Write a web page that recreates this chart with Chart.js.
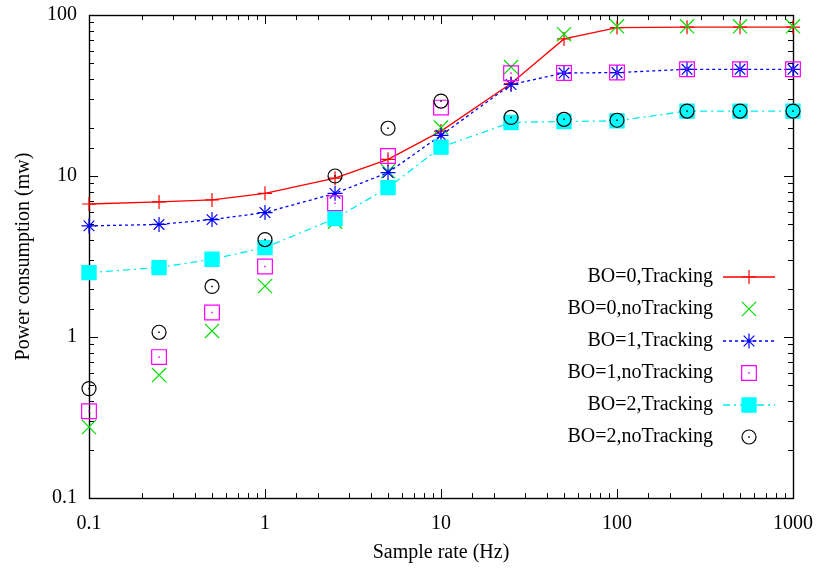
<!DOCTYPE html>
<html>
<head>
<meta charset="utf-8">
<title>Power consumption vs sample rate</title>
<script src="https://cdn.jsdelivr.net/npm/chart.js@4.4.1/dist/chart.umd.min.js"></script>
<style>
  html, body { margin: 0; padding: 0; background: #fff; }
  canvas { display: block; }
</style>
</head>
<body>
<canvas id="powerChart" width="818" height="570"></canvas>
<script>
// Sample rates (Hz) on the x axis
const sampleRates = [0.1, 0.25, 0.5, 1, 2.5, 5, 10, 25, 50, 100, 250, 500, 1000];

// Power consumption (mw) per configuration
const bo0Tracking   = [6.7, 6.9, 7.1, 7.8, 9.7, 12.7, 19.0, 37.5, 71, 83.5, 84, 84, 84];
const bo0NoTracking = [0.276, 0.58, 1.09, 2.07, 5.2, 10.7, 20, 47.5, 76, 85, 85, 85, 85];
const bo1Tracking   = [4.9, 5.0, 5.36, 5.93, 7.8, 10.5, 17.9, 37, 43.6, 43.9, 46, 46, 46];
const bo1NoTracking = [0.346, 0.75, 1.42, 2.74, 6.77, 13.3, 26.6, 43.5, 43.6, 43.9, 46, 46, 46];
const bo2Tracking   = [2.51, 2.7, 3.04, 3.59, 5.44, 8.47, 15.1, 21.5, 21.8, 22, 25.3, 25.3, 25.3];
const bo2NoTracking = [0.478, 1.07, 2.06, 4.03, 10.0, 19.8, 29.2, 23.1, 22.5, 22.2, 25.3, 25.3, 25.3];

const seriesLabels = [
    'BO=0,Tracking', 'BO=0,noTracking',
    'BO=1,Tracking', 'BO=1,noTracking',
    'BO=2,Tracking', 'BO=2,noTracking'
];

const FONT = "'Liberation Serif', 'Times New Roman', serif";

function toPoints(values) {
    return sampleRates.map((x, i) => ({ x: x, y: values[i] }));
}

function isDecade(v) {
    const l = Math.log10(v);
    return Math.abs(l - Math.round(l)) < 1e-9;
}

// ==============================================================================
// PLUGINS
// ==============================================================================

// gnuplot style frame: border plus inward ticks on all four sides
const frameTicks = {
    id: 'frameTicks',
    beforeDatasetsDraw(chart) {
        const { ctx, chartArea: a, scales: { x, y } } = chart;
        ctx.save();
        ctx.strokeStyle = '#000';
        ctx.lineWidth = 1;
        ctx.beginPath();
        x.ticks.forEach(t => {
            const px = Math.round(x.getPixelForValue(t.value)) + 0.5;
            const len = isDecade(t.value) ? 9 : 5;
            ctx.moveTo(px, a.bottom); ctx.lineTo(px, a.bottom - len);
            ctx.moveTo(px, a.top); ctx.lineTo(px, a.top + len);
        });
        y.ticks.forEach(t => {
            const py = Math.round(y.getPixelForValue(t.value)) + 0.5;
            const len = isDecade(t.value) ? 9 : 5;
            ctx.moveTo(a.left, py); ctx.lineTo(a.left + len, py);
            ctx.moveTo(a.right, py); ctx.lineTo(a.right - len, py);
        });
        ctx.stroke();
        ctx.lineWidth = 1.4;
        ctx.strokeRect(Math.round(a.left) + 0.5, Math.round(a.top) + 0.5,
            Math.round(a.right - a.left), Math.round(a.bottom - a.top));
        ctx.restore();
    }
};

// tiny centre dot inside the open square and circle markers
const centreDots = {
    id: 'centreDots',
    afterDatasetsDraw(chart) {
        const ctx = chart.ctx;
        ctx.save();
        chart.data.datasets.forEach((ds, i) => {
            if (!ds.centreDot) return;
            ctx.fillStyle = ds.pointBorderColor;
            chart.getDatasetMeta(i).data.forEach(pt => {
                ctx.fillRect(pt.x - 0.75, pt.y - 0.75, 1.5, 1.5);
            });
        });
        ctx.restore();
    }
};

// key inside the plot: text right-aligned, line sample + marker on the right
const keyBox = {
    id: 'keyBox',
    afterDraw(chart) {
        const ctx = chart.ctx;
        const textRight = 713, lineLeft = 723, lineRight = 775, markX = 749;
        const top = 277, step = 32;
        ctx.save();
        ctx.font = '20px ' + FONT;
        ctx.textAlign = 'right';
        ctx.textBaseline = 'middle';
        chart.data.datasets.forEach((ds, i) => {
            const yy = top + i * step;
            ctx.fillStyle = '#000';
            ctx.fillText(ds.label, textRight, yy);
            if (ds.showLine) {
                ctx.strokeStyle = ds.borderColor;
                ctx.lineWidth = ds.borderWidth;
                ctx.setLineDash(ds.borderDash || []);
                ctx.beginPath();
                ctx.moveTo(lineLeft, yy);
                ctx.lineTo(lineRight, yy);
                ctx.stroke();
                ctx.setLineDash([]);
            }
            ctx.strokeStyle = ds.pointBorderColor;
            ctx.fillStyle = ds.pointBackgroundColor;
            ctx.lineWidth = ds.pointBorderWidth;
            Chart.helpers.drawPoint(ctx, {
                pointStyle: ds.pointStyle,
                radius: ds.pointRadius,
                borderWidth: ds.pointBorderWidth,
                rotation: 0
            }, markX, yy);
            if (ds.centreDot) {
                ctx.fillStyle = ds.pointBorderColor;
                ctx.fillRect(markX - 0.75, yy - 0.75, 1.5, 1.5);
            }
        });
        ctx.restore();
    }
};

// ==============================================================================
// CHART
// ==============================================================================

function series(idx, values, colour, style, radius, extra) {
    return Object.assign({
        label: seriesLabels[idx],
        data: toPoints(values),
        order: 5 - idx,
        showLine: false,
        borderColor: colour,
        borderWidth: 1.3,
        pointStyle: style,
        pointRadius: radius,
        pointHoverRadius: radius,
        pointBorderColor: colour,
        pointBackgroundColor: 'rgba(0,0,0,0)',
        pointBorderWidth: 1.2,
        tension: 0,
        clip: false
    }, extra || {});
}

const datasets = [
    series(0, bo0Tracking, '#ff0000', 'cross', 7, { showLine: true }),
    series(1, bo0NoTracking, '#00dd00', 'crossRot', 10),
    series(2, bo1Tracking, '#0000ff', 'star', 7.5, { showLine: true, borderDash: [3, 3] }),
    series(3, bo1NoTracking, '#ff00ff', 'rect', 10.4, { centreDot: true }),
    series(4, bo2Tracking, '#00eeee', 'rect', 10, {
        showLine: true, borderDash: [7, 4, 2, 4], pointBackgroundColor: '#00ffff', pointBorderColor: '#00ffff'
    }),
    series(5, bo2NoTracking, '#000000', 'circle', 7, { centreDot: true })
];

new Chart(document.getElementById('powerChart'), {
    type: 'line',
    data: { datasets: datasets },
    plugins: [frameTicks, centreDots, keyBox],
    options: {
        responsive: false,
        animation: false,
        layout: { padding: { top: 15, right: 25, left: 0, bottom: 0 } },
        plugins: {
            legend: { display: false },
            tooltip: { enabled: false }
        },
        scales: {
            x: {
                type: 'logarithmic',
                min: 0.1,
                max: 1000,
                grid: { display: false, drawTicks: false },
                border: { display: false },
                afterFit: scale => {
                    scale.height = 72;
                    scale.paddingLeft = 0;
                    scale.paddingRight = 0;
                },
                ticks: {
                    autoSkip: false,
                    maxRotation: 0,
                    padding: 14,
                    color: '#000',
                    font: { family: FONT, size: 20 },
                    callback: v => isDecade(v) ? String(v) : ''
                },
                title: {
                    display: true,
                    text: 'Sample rate (Hz)',
                    color: '#000',
                    font: { family: FONT, size: 20 },
                    padding: { top: 0, bottom: 5 }
                }
            },
            y: {
                type: 'logarithmic',
                min: 0.1,
                max: 100,
                grid: { display: false, drawTicks: false },
                border: { display: false },
                afterFit: scale => {
                    scale.width = 89;
                    scale.paddingTop = 0;
                    scale.paddingBottom = 0;
                },
                ticks: {
                    autoSkip: false,
                    padding: 12,
                    color: '#000',
                    font: { family: FONT, size: 20 },
                    callback: v => isDecade(v) ? String(v) : ''
                },
                title: {
                    display: true,
                    text: 'Power consumption (mw)',
                    color: '#000',
                    font: { family: FONT, size: 20 },
                    padding: { top: 12, bottom: 0 }
                }
            }
        }
    }
});
</script>
</body>
</html>
